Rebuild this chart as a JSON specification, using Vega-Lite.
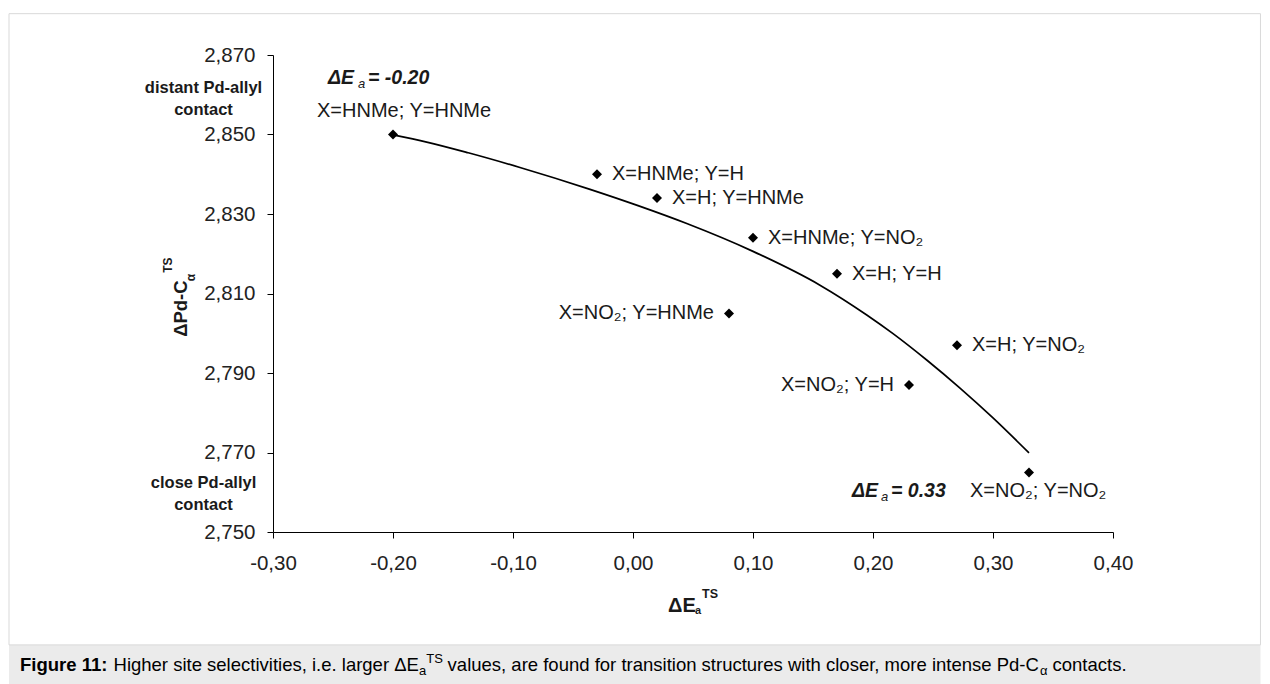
{
  "$schema": "https://vega.github.io/schema/vega-lite/v6.json",
  "width": 840,
  "height": 477,
  "autosize": {"type": "none"},
  "padding": {"left": 273, "top": 55, "right": 157, "bottom": 152},
  "background": "white",
  "config": {
    "view": {"stroke": null},
    "locale": {"number": {"decimal": ",", "thousands": ".", "grouping": [3], "currency": ["", ""], "minus": "-"}},
    "font": "Liberation Sans",
    "axis": {
      "grid": false,
      "title": null,
      "domainColor": "#000000",
      "domainWidth": 1,
      "tickColor": "#000000",
      "tickWidth": 1,
      "tickSize": 6,
      "labelFont": "Liberation Sans",
      "labelFontSize": 20.5,
      "labelColor": "#222222",
      "labelOverlap": false,
      "labelFlush": false
    }
  },
  "datasets": {
    "points": [
      {"dE": -0.20, "dPd": 2.850, "label": "X=HNMe; Y=HNMe"},
      {"dE": -0.03, "dPd": 2.840, "label": "X=HNMe; Y=H"},
      {"dE": 0.02, "dPd": 2.834, "label": "X=H; Y=HNMe"},
      {"dE": 0.10, "dPd": 2.824, "label": "X=HNMe; Y=NO₂"},
      {"dE": 0.17, "dPd": 2.815, "label": "X=H; Y=H"},
      {"dE": 0.08, "dPd": 2.805, "label": "X=NO₂; Y=HNMe"},
      {"dE": 0.27, "dPd": 2.797, "label": "X=H; Y=NO₂"},
      {"dE": 0.23, "dPd": 2.787, "label": "X=NO₂; Y=H"},
      {"dE": 0.33, "dPd": 2.765, "label": "X=NO₂; Y=NO₂"}
    ],
    "fit": [
      {"dE": -0.200, "dPd": 2.8499},
      {"dE": -0.1719, "dPd": 2.8481},
      {"dE": -0.1373, "dPd": 2.8454},
      {"dE": -0.0942, "dPd": 2.8417},
      {"dE": -0.0358, "dPd": 2.8362},
      {"dE": 0.0042, "dPd": 2.8321},
      {"dE": 0.0448, "dPd": 2.8276},
      {"dE": 0.100, "dPd": 2.8206},
      {"dE": 0.1558, "dPd": 2.8121},
      {"dE": 0.1948, "dPd": 2.8046},
      {"dE": 0.2167, "dPd": 2.7999},
      {"dE": 0.245, "dPd": 2.7932},
      {"dE": 0.2725, "dPd": 2.7862},
      {"dE": 0.300, "dPd": 2.7787},
      {"dE": 0.330, "dPd": 2.7699}
    ],
    "frame": [{"dE": -0.52, "dE2": 0.5229, "dPd": 2.8804, "dPd2": 2.7216}],
    "band": [{"dE": -0.52, "dE2": 0.5229, "dPd": 2.7216, "dPd2": 2.7100}],
    "axisnotes": [
      {"dE": -0.3579, "dPd": 2.8617, "text": "distant Pd-allyl"},
      {"dE": -0.3579, "dPd": 2.8562, "text": "contact"},
      {"dE": -0.3579, "dPd": 2.7623, "text": "close Pd-allyl"},
      {"dE": -0.3579, "dPd": 2.7568, "text": "contact"}
    ],
    "ytitle": [{"dE": -0.3717, "dPd": 2.7991, "text": "ΔPd-C"}],
    "ytitle_sub": [{"dE": -0.3650, "dPd": 2.8131, "text": "α"}],
    "ytitle_sup": [{"dE": -0.3842, "dPd": 2.8152, "text": "TS"}],
    "xtitle": [{"dE": 0.0292, "dPd": 2.7300, "text": "ΔE"}],
    "xtitle_sub": [{"dE": 0.0517, "dPd": 2.7294, "text": "a"}],
    "xtitle_sup": [{"dE": 0.0575, "dPd": 2.7334, "text": "TS"}],
    "caption_bold": [{"dE": -0.5108, "dPd": 2.7150, "text": "Figure 11:"}],
    "caption": [
      {"dE": -0.4329, "dPd": 2.7150, "text": "Higher site selectivities, i.e. larger ΔE"},
      {"dE": -0.1545, "dPd": 2.7150, "text": "values, are found for transition structures with closer, more intense Pd-C"},
      {"dE": 0.3496, "dPd": 2.7150, "text": "contacts."}
    ],
    "caption_sub": [
      {"dE": -0.1783, "dPd": 2.7140, "text": "a"},
      {"dE": 0.3391, "dPd": 2.7140, "text": "α"}
    ],
    "caption_sup": [{"dE": -0.1722, "dPd": 2.7170, "text": "TS"}]
  },
  "encoding": {
    "x": {
      "field": "dE",
      "type": "quantitative",
      "scale": {"domain": [-0.3, 0.4], "nice": false, "zero": false},
      "axis": {"values": [-0.3, -0.2, -0.1, 0, 0.1, 0.2, 0.3, 0.4], "format": ".2f", "labelPadding": 15}
    },
    "y": {
      "field": "dPd",
      "type": "quantitative",
      "scale": {"domain": [2.75, 2.87], "nice": false, "zero": false},
      "axis": {"values": [2.75, 2.77, 2.79, 2.81, 2.83, 2.85, 2.87], "format": ".3f", "labelPadding": 12}
    }
  },
  "layer": [
    {
      "data": {"name": "band"},
      "mark": {"type": "rect", "fill": "#ebebeb", "stroke": null},
      "encoding": {"x2": {"field": "dE2"}, "y2": {"field": "dPd2"}}
    },
    {
      "data": {"name": "frame"},
      "mark": {"type": "rect", "fillOpacity": 0, "stroke": "#d9d9d9", "strokeWidth": 1},
      "encoding": {"x2": {"field": "dE2"}, "y2": {"field": "dPd2"}}
    },
    {
      "data": {"name": "fit"},
      "mark": {"type": "line", "color": "#000000", "strokeWidth": 1.7, "interpolate": "monotone"},
      "encoding": {}
    },
    {
      "data": {"name": "points"},
      "mark": {"type": "point", "shape": "diamond", "filled": true, "color": "#000000", "size": 100, "opacity": 1},
      "encoding": {}
    },
    {
      "data": {"name": "points"},
      "transform": [{"filter": "datum.dE > -0.2 && datum.dE < 0.33 && datum.dE != 0.08 && datum.dE != 0.23"}],
      "mark": {"type": "text", "align": "left", "baseline": "middle", "dx": 15, "fontSize": 20, "fill": "#1a1a1a", "font": "Liberation Sans"},
      "encoding": {"text": {"field": "label"}}
    },
    {
      "data": {"name": "points"},
      "transform": [{"filter": "datum.dE == 0.08 || datum.dE == 0.23"}],
      "mark": {"type": "text", "align": "right", "baseline": "middle", "dx": -15, "fontSize": 20, "fill": "#1a1a1a", "font": "Liberation Sans"},
      "encoding": {"text": {"field": "label"}}
    },
    {
      "data": {"name": "points"},
      "transform": [{"filter": "datum.dE == -0.2"}],
      "mark": {"type": "text", "align": "left", "baseline": "alphabetic", "dx": -76, "dy": -17.5, "fontSize": 20, "fill": "#1a1a1a", "font": "Liberation Sans"},
      "encoding": {"text": {"field": "label"}}
    },
    {
      "data": {"name": "points"},
      "transform": [{"filter": "datum.dE == -0.2"}],
      "mark": {"type": "text", "align": "left", "baseline": "alphabetic", "dx": -65, "dy": -50.5, "fontSize": 19.5, "fontWeight": "bold", "fontStyle": "italic", "fill": "#1a1a1a", "font": "Liberation Sans"},
      "encoding": {"text": {"value": "ΔE"}}
    },
    {
      "data": {"name": "points"},
      "transform": [{"filter": "datum.dE == -0.2"}],
      "mark": {"type": "text", "align": "left", "baseline": "alphabetic", "dx": -35, "dy": -46.5, "fontSize": 13, "fontStyle": "italic", "fill": "#1a1a1a", "font": "Liberation Sans"},
      "encoding": {"text": {"value": "a"}}
    },
    {
      "data": {"name": "points"},
      "transform": [{"filter": "datum.dE == -0.2"}],
      "mark": {"type": "text", "align": "left", "baseline": "alphabetic", "dx": -25, "dy": -50.5, "fontSize": 19.5, "fontWeight": "bold", "fontStyle": "italic", "fill": "#1a1a1a", "font": "Liberation Sans"},
      "encoding": {"text": {"value": "= -0.20"}}
    },
    {
      "data": {"name": "points"},
      "transform": [{"filter": "datum.dE == 0.33"}],
      "mark": {"type": "text", "align": "left", "baseline": "alphabetic", "dx": -59, "dy": 25, "fontSize": 20, "fill": "#1a1a1a", "font": "Liberation Sans"},
      "encoding": {"text": {"field": "label"}}
    },
    {
      "data": {"name": "points"},
      "transform": [{"filter": "datum.dE == 0.33"}],
      "mark": {"type": "text", "align": "left", "baseline": "alphabetic", "dx": -177, "dy": 25, "fontSize": 19.5, "fontWeight": "bold", "fontStyle": "italic", "fill": "#1a1a1a", "font": "Liberation Sans"},
      "encoding": {"text": {"value": "ΔE"}}
    },
    {
      "data": {"name": "points"},
      "transform": [{"filter": "datum.dE == 0.33"}],
      "mark": {"type": "text", "align": "left", "baseline": "alphabetic", "dx": -148, "dy": 29, "fontSize": 13, "fontStyle": "italic", "fill": "#1a1a1a", "font": "Liberation Sans"},
      "encoding": {"text": {"value": "a"}}
    },
    {
      "data": {"name": "points"},
      "transform": [{"filter": "datum.dE == 0.33"}],
      "mark": {"type": "text", "align": "left", "baseline": "alphabetic", "dx": -138, "dy": 25, "fontSize": 19.5, "fontWeight": "bold", "fontStyle": "italic", "fill": "#1a1a1a", "font": "Liberation Sans"},
      "encoding": {"text": {"value": "= 0.33"}}
    },
    {
      "data": {"name": "axisnotes"},
      "mark": {"type": "text", "align": "center", "baseline": "middle", "fontSize": 16.5, "fontWeight": "bold", "fill": "#1a1a1a", "font": "Liberation Sans"},
      "encoding": {"text": {"field": "text"}}
    },
    {
      "data": {"name": "ytitle"},
      "mark": {"type": "text", "align": "left", "baseline": "alphabetic", "angle": 270, "fontSize": 18.5, "fontWeight": "bold", "fill": "#1a1a1a", "font": "Liberation Sans"},
      "encoding": {"text": {"field": "text"}}
    },
    {
      "data": {"name": "ytitle_sub"},
      "mark": {"type": "text", "align": "left", "baseline": "alphabetic", "angle": 270, "fontSize": 12, "fontWeight": "bold", "fill": "#1a1a1a", "font": "Liberation Sans"},
      "encoding": {"text": {"field": "text"}}
    },
    {
      "data": {"name": "ytitle_sup"},
      "mark": {"type": "text", "align": "left", "baseline": "alphabetic", "angle": 270, "fontSize": 12, "fontWeight": "bold", "fill": "#1a1a1a", "font": "Liberation Sans"},
      "encoding": {"text": {"field": "text"}}
    },
    {
      "data": {"name": "xtitle"},
      "mark": {"type": "text", "align": "left", "baseline": "alphabetic", "fontSize": 20, "fontWeight": "bold", "fill": "#1a1a1a", "font": "Liberation Sans"},
      "encoding": {"text": {"field": "text"}}
    },
    {
      "data": {"name": "xtitle_sub"},
      "mark": {"type": "text", "align": "left", "baseline": "alphabetic", "fontSize": 11, "fontWeight": "bold", "fill": "#1a1a1a", "font": "Liberation Sans"},
      "encoding": {"text": {"field": "text"}}
    },
    {
      "data": {"name": "xtitle_sup"},
      "mark": {"type": "text", "align": "left", "baseline": "alphabetic", "fontSize": 12.5, "fontWeight": "bold", "fill": "#1a1a1a", "font": "Liberation Sans"},
      "encoding": {"text": {"field": "text"}}
    },
    {
      "data": {"name": "caption_bold"},
      "mark": {"type": "text", "align": "left", "baseline": "alphabetic", "fontSize": 18.5, "fontWeight": "bold", "fill": "#000000", "font": "Liberation Sans"},
      "encoding": {"text": {"field": "text"}}
    },
    {
      "data": {"name": "caption"},
      "mark": {"type": "text", "align": "left", "baseline": "alphabetic", "fontSize": 18.5, "fill": "#000000", "font": "Liberation Sans"},
      "encoding": {"text": {"field": "text"}}
    },
    {
      "data": {"name": "caption_sub"},
      "mark": {"type": "text", "align": "left", "baseline": "alphabetic", "fontSize": 13, "fill": "#000000", "font": "Liberation Sans"},
      "encoding": {"text": {"field": "text"}}
    },
    {
      "data": {"name": "caption_sup"},
      "mark": {"type": "text", "align": "left", "baseline": "alphabetic", "fontSize": 13, "fill": "#000000", "font": "Liberation Sans"},
      "encoding": {"text": {"field": "text"}}
    }
  ]
}
